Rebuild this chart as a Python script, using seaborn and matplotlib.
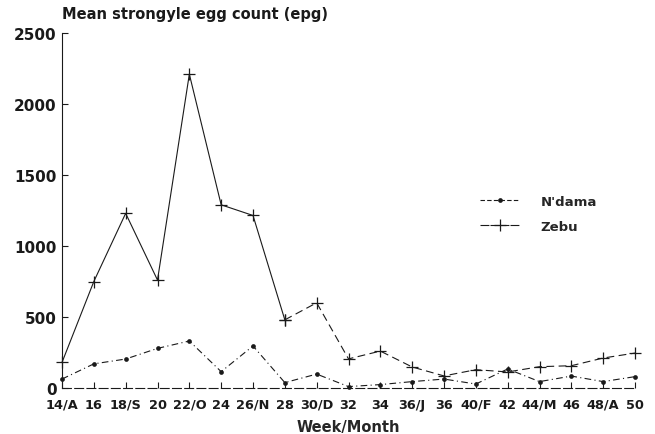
import matplotlib
matplotlib.use("Agg")
import matplotlib.pyplot as plt
from matplotlib.lines import Line2D
import seaborn as sns
import pandas as pd
import numpy as np

weeks = ["14/A", "16", "18/S", "20", "22/O", "24", "26/N", "28", "30/D", "32",
         "34", "36/J", "36", "40/F", "42", "44/M", "46", "48/A", "50"]
ndama = [63, 170, 204, 279, 331, 115, 296, 38, 98, 10,
         24, 45, 63, 28, 134, 45, 84, 45, 80]
zebu = [180, 750, 1230, 760, 2210, 1290, 1215, 480, 600, 205,
        260, 148, 85, 129, 113, 150, 157, 211, 246]
zebu_solid_until = 7  # index of last point drawn with a solid line
y_ticks = [0, 500, 1000, 1500, 2000, 2500]

sns.set_theme(style="white")
plt.rcParams['font.family'] = ['DejaVu Sans']

df = pd.DataFrame({"pos": np.arange(len(weeks)), "week": weeks,
                   "ndama": ndama, "zebu": zebu})

fig = plt.figure(figsize=(6.55, 4.35), dpi=100)
ax = fig.add_axes([62/655, 46/435, 573/655, 355/435])

c = "#1a1a1a"
sns.lineplot(data=df, x="pos", y="ndama", ax=ax, color=c, lw=0.8,
             linestyle=(0, (6, 3, 1, 3)), marker="o", markersize=3.4,
             markeredgewidth=0, markerfacecolor=c, clip_on=False)
sns.lineplot(data=df.iloc[:zebu_solid_until + 1], x="pos", y="zebu", ax=ax,
             color=c, lw=0.8, marker="+", markersize=9, markeredgewidth=0.9,
             markeredgecolor=c, clip_on=False)
sns.lineplot(data=df.iloc[zebu_solid_until:], x="pos", y="zebu", ax=ax,
             color=c, lw=0.8, linestyle=(0, (7, 4)), marker="+", markersize=9,
             markeredgewidth=0.9, markeredgecolor=c, clip_on=False)

ax.set_xlim(0, len(weeks) - 1)
ax.set_ylim(0, 2500)
ax.set_xticks(df["pos"])
ax.set_xticklabels(weeks, fontsize=9.3, fontweight="bold")
ax.set_yticks(y_ticks)
ax.set_yticklabels([str(v) for v in y_ticks], fontsize=11, fontweight="bold")
ax.tick_params(axis="both", direction="in", length=4, width=0.8, colors=c,
               left=True, bottom=True)
ax.tick_params(axis="x", pad=7)
ax.tick_params(axis="y", pad=4)
ax.set_xlabel("Week/Month", fontsize=10.5, fontweight="bold", labelpad=6)
ax.set_ylabel("")
for s in ["top", "right"]:
    ax.spines[s].set_visible(False)
ax.spines["left"].set_color(c)
ax.spines["left"].set_linewidth(0.8)
ax.spines["bottom"].set_color(c)
ax.spines["bottom"].set_linewidth(0.8)
ax.spines["bottom"].set_linestyle((0, (8, 3)))

fig.text(62/655, 1 - 19/435, "Mean strongyle egg count (epg)", fontsize=10.5,
         fontweight="bold", ha="left", va="baseline", color=c)

handles = [
    Line2D([], [], color=c, lw=0.8, linestyle=(0, (4, 2)), marker="o",
           markersize=3.4, markeredgewidth=0),
    Line2D([], [], color=c, lw=0.8, linestyle=(0, (8, 1)), marker="+",
           markersize=9, markeredgewidth=0.9),
]
leg = fig.legend(handles, ["N'dama", "Zebu"], loc="upper left",
                 bbox_to_anchor=(468/655, 1 - 184/435), frameon=False,
                 prop={"weight": "bold", "size": 9.5}, handlelength=3.0,
                 labelspacing=0.9, handletextpad=1.6)

fig.savefig("out.png", dpi=100)
